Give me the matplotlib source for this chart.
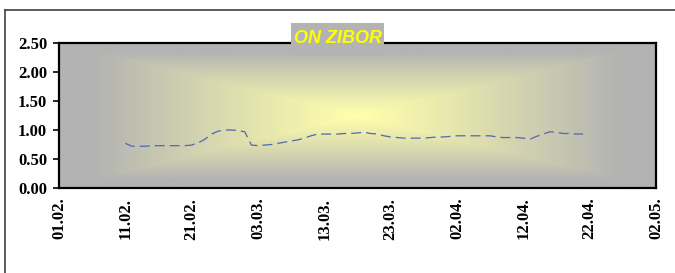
import numpy as np
import pandas as pd
import matplotlib
matplotlib.use("Agg")
import matplotlib.pyplot as plt
import matplotlib.dates as mdates
from matplotlib.lines import Line2D
from matplotlib.patches import Rectangle

# 数据：每日数值
start_date = "2006-02-11"
values = [0.77, 0.72, 0.72, 0.72, 0.73, 0.73, 0.73, 0.73, 0.73, 0.73,
          0.74, 0.78, 0.84, 0.93, 0.98, 1.00, 1.00, 0.99, 0.97, 0.74,
          0.73, 0.74, 0.75, 0.77, 0.79, 0.81, 0.83, 0.86, 0.90, 0.93,
          0.93, 0.93, 0.93, 0.94, 0.94, 0.95, 0.96, 0.94, 0.93, 0.90,
          0.88, 0.87, 0.86, 0.86, 0.86, 0.86, 0.87, 0.88, 0.88, 0.89,
          0.90, 0.90, 0.90, 0.90, 0.90, 0.90, 0.88, 0.87, 0.87, 0.87,
          0.86, 0.84, 0.89, 0.93, 0.97, 0.96, 0.94, 0.94, 0.93, 0.93]
dates = pd.date_range(start_date, periods=len(values), freq="D")
xmin, xmax = pd.Timestamp("2006-02-01"), pd.Timestamp("2006-05-02")
title = "ON ZIBOR"

fig = plt.figure(figsize=(6.75, 2.73), dpi=100)
ax = fig.add_axes([59/675, 1-188/273, (656-59)/675, (188-43)/273])

# 背景渐变（中心黄色，四周灰色）
nx, ny = 600, 150
gx = np.abs(np.linspace(-1, 1, nx))[None, :]
gy = np.abs(np.linspace(-1, 1, ny))[:, None]
t = np.clip(np.maximum(gx, gy) / 0.88, 0, 1) ** 1.1
c0 = np.array([255, 255, 172]) / 255.0
c1 = np.array([179, 179, 179]) / 255.0
img = c0[None, None, :] * (1 - t[..., None]) + c1[None, None, :] * t[..., None]
ax.imshow(img, extent=[0, 1, 0, 1], transform=ax.transAxes, aspect="auto", zorder=0)

ax.plot(dates, values, color="#4f67b5", lw=0.9, dashes=(8, 4), zorder=2)

ax.set_xlim(xmin, xmax)
ax.set_ylim(0, 2.5)
ax.set_yticks(np.arange(0, 2.51, 0.5))
ax.yaxis.set_major_formatter(matplotlib.ticker.FormatStrFormatter("%.2f"))
ticks = pd.date_range(xmin, xmax, freq="10D")
ax.set_xticks(ticks)
ax.xaxis.set_major_formatter(mdates.DateFormatter("%d.%m."))

for lab in ax.get_yticklabels() + ax.get_xticklabels():
    lab.set_fontfamily("Liberation Serif")
    lab.set_fontweight("bold")
    lab.set_fontsize(12)
ax.tick_params(axis="y", length=4.5, width=1.2, pad=4)
ax.tick_params(axis="x", length=0, pad=7, labelrotation=90)
for s in ax.spines.values():
    s.set_linewidth(1.6)
    s.set_color("black")

# 标题框
fig.add_artist(Rectangle((291/675, 1-55/273), 93/675, 32/273, transform=fig.transFigure,
                         fc="#b3b3b3", ec="none", zorder=4))
fig.text(338/675, 1-39/273, title, ha="center", va="center", fontsize=13,
         fontfamily="Liberation Sans", fontweight="bold", fontstyle="italic",
         color="#ffff00", zorder=5)

# 外框
fig.add_artist(Line2D([5/675, 1], [1-10/273, 1-10/273], color="#404040", lw=1.2))
fig.add_artist(Line2D([5/675, 5/675], [0, 1-10/273], color="#404040", lw=1.2))

fig.savefig("out.png", dpi=100)
